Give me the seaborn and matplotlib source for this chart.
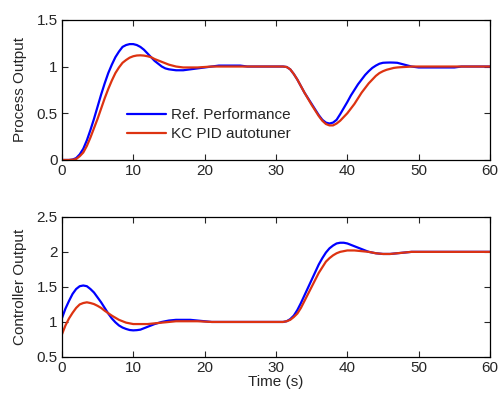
import matplotlib
matplotlib.use("Agg")
import matplotlib.pyplot as plt
import seaborn as sns
import numpy as np
import pandas as pd

# Sample times (s): finer sampling during the two transients
time_s = list(np.concatenate([
    np.arange(0, 16.01, 0.5),    # start-up transient
    np.arange(17, 30.01, 1.0),   # steady
    np.arange(31, 50.01, 0.5),   # load / setpoint transient
    np.arange(51, 60.01, 1.0),   # steady
]))

# Process output: reference performance vs. KC PID autotuner
process_ref = [
    0.00, 0.00, 0.00, 0.005, 0.02, 0.06, 0.12, 0.21, 0.32, 0.44, 0.57,
    0.70, 0.82, 0.93, 1.02, 1.10, 1.16, 1.21, 1.23, 1.24, 1.24, 1.23,
    1.21, 1.18, 1.14, 1.10, 1.06, 1.03, 1.00, 0.98, 0.97, 0.965, 0.96,
    0.96, 0.97, 0.98, 0.99, 1.00, 1.01, 1.01, 1.01, 1.01, 1.00, 1.00,
    1.00, 1.00, 1.00,
    1.00, 0.995, 0.97, 0.92, 0.86, 0.79, 0.72, 0.66, 0.60, 0.54, 0.48,
    0.43, 0.40, 0.39, 0.40, 0.43, 0.49, 0.555, 0.62, 0.69, 0.75, 0.81,
    0.86, 0.91, 0.95, 0.985, 1.01, 1.03, 1.04, 1.042, 1.043, 1.042, 1.04,
    1.03, 1.02, 1.01, 1.00, 0.995, 0.99,
    0.99, 0.99, 0.99, 0.99, 0.99, 1.00, 1.00, 1.00, 1.00, 1.00,
]
process_kc = [
    0.00, 0.00, 0.00, 0.003, 0.01, 0.04, 0.08, 0.15, 0.24, 0.34, 0.44,
    0.55, 0.66, 0.76, 0.85, 0.93, 0.99, 1.04, 1.07, 1.095, 1.11, 1.118,
    1.12, 1.117, 1.11, 1.10, 1.08, 1.065, 1.05, 1.035, 1.02, 1.01, 1.00,
    0.99, 0.99, 0.99, 0.995, 1.00, 1.00, 1.00, 1.00, 1.00, 1.00, 1.00,
    1.00, 1.00, 1.00,
    1.00, 0.995, 0.97, 0.92, 0.86, 0.79, 0.72, 0.655, 0.59, 0.53, 0.47,
    0.42, 0.385, 0.37, 0.37, 0.39, 0.42, 0.46, 0.50, 0.55, 0.60, 0.66,
    0.72, 0.77, 0.82, 0.86, 0.90, 0.93, 0.95, 0.965, 0.975, 0.985, 0.99,
    0.993, 0.995, 0.997, 1.00, 1.00, 1.00,
    1.00, 1.00, 1.00, 1.00, 1.00, 1.00, 1.00, 1.00, 1.00, 1.00,
]

# Controller output
control_ref = [
    1.05, 1.19, 1.30, 1.40, 1.47, 1.51, 1.52, 1.51, 1.47, 1.42, 1.35,
    1.28, 1.20, 1.12, 1.05, 0.995, 0.95, 0.92, 0.90, 0.885, 0.88, 0.883,
    0.89, 0.91, 0.93, 0.95, 0.97, 0.985, 1.00, 1.01, 1.02, 1.025, 1.03,
    1.03, 1.03, 1.02, 1.01, 1.00, 1.00, 1.00, 1.00, 1.00, 1.00, 1.00,
    1.00, 1.00, 1.00,
    1.00, 1.01, 1.04, 1.09, 1.17, 1.27, 1.38, 1.49, 1.60, 1.71, 1.82,
    1.91, 1.99, 2.05, 2.09, 2.12, 2.13, 2.13, 2.12, 2.10, 2.08, 2.06,
    2.04, 2.02, 2.00, 1.99, 1.98, 1.975, 1.97, 1.97, 1.97, 1.975, 1.98,
    1.985, 1.99, 1.995, 2.00, 2.00, 2.00,
    2.00, 2.00, 2.00, 2.00, 2.00, 2.00, 2.00, 2.00, 2.00, 2.00,
]
control_kc = [
    0.82, 0.95, 1.05, 1.13, 1.20, 1.25, 1.27, 1.28, 1.27, 1.255, 1.23,
    1.20, 1.16, 1.125, 1.09, 1.06, 1.03, 1.01, 0.99, 0.98, 0.97, 0.97,
    0.97, 0.97, 0.97, 0.975, 0.98, 0.985, 0.99, 0.995, 1.00, 1.005, 1.01,
    1.01, 1.01, 1.01, 1.005, 1.00, 1.00, 1.00, 1.00, 1.00, 1.00, 1.00,
    1.00, 1.00, 1.00,
    1.00, 1.01, 1.03, 1.07, 1.12, 1.20, 1.30, 1.40, 1.50, 1.60, 1.70,
    1.78, 1.86, 1.91, 1.95, 1.98, 2.00, 2.01, 2.02, 2.02, 2.02, 2.015,
    2.01, 2.005, 2.00, 1.99, 1.98, 1.975, 1.97, 1.97, 1.97, 1.975, 1.98,
    1.985, 1.99, 1.995, 2.00, 2.00, 2.00,
    2.00, 2.00, 2.00, 2.00, 2.00, 2.00, 2.00, 2.00, 2.00, 2.00,
]

series_names = ["Ref. Performance", "KC PID autotuner"]
series_colors = ["#0000ff", "#dd3311"]

x_ticks = [0, 10, 20, 30, 40, 50, 60]

sns.set_style("ticks")
plt.rcParams["font.family"] = ["Liberation Sans", "DejaVu Sans"]
plt.rcParams["font.size"] = 11

fig = plt.figure(figsize=(4.99, 3.96), dpi=100)
ax_top = fig.add_axes([0.124, 0.596, 0.858, 0.354])
ax_bot = fig.add_axes([0.124, 0.0985, 0.858, 0.354])

n = len(time_s)
top_df = pd.DataFrame({
    "t": time_s * 2,
    "y": process_ref + process_kc,
    "series": [series_names[0]] * n + [series_names[1]] * n,
})
bot_df = pd.DataFrame({
    "t": time_s * 2,
    "y": control_ref + control_kc,
    "series": [series_names[0]] * n + [series_names[1]] * n,
})

palette = dict(zip(series_names, series_colors))
sns.lineplot(data=top_df, x="t", y="y", hue="series", palette=palette,
             linewidth=1.6, ax=ax_top)
sns.lineplot(data=bot_df, x="t", y="y", hue="series", palette=palette,
             linewidth=1.6, ax=ax_bot, legend=False)

for ax in (ax_top, ax_bot):
    ax.set_xlim(0, 60)
    ax.set_xticks(x_ticks)
    ax.tick_params(direction="in", length=4, width=0.8, top=True, right=True,
                   labelsize=11, pad=3)
    for sp in ax.spines.values():
        sp.set_visible(True)
        sp.set_linewidth(0.9)
        sp.set_color("black")

ax_top.set_ylim(0, 1.5)
ax_top.set_yticks([0, 0.5, 1, 1.5])
ax_top.set_yticklabels(["0", "0.5", "1", "1.5"])
ax_top.set_xlabel("")
ax_top.set_ylabel("Process Output", fontsize=11, labelpad=7)

ax_bot.set_ylim(0.5, 2.5)
ax_bot.set_yticks([0.5, 1, 1.5, 2, 2.5])
ax_bot.set_yticklabels(["0.5", "1", "1.5", "2", "2.5"])
ax_bot.set_xlabel("Time (s)", fontsize=11, labelpad=0)
ax_bot.set_ylabel("Controller Output", fontsize=11, labelpad=7)

leg = ax_top.legend(loc="upper left", bbox_to_anchor=(0.153, 0.37),
                    frameon=False, borderpad=0, borderaxespad=0,
                    handlelength=2.55, handletextpad=0.3, labelspacing=0.33,
                    fontsize=11)
for line in leg.get_lines():
    line.set_linewidth(1.6)

fig.savefig("out.png", dpi=100)
